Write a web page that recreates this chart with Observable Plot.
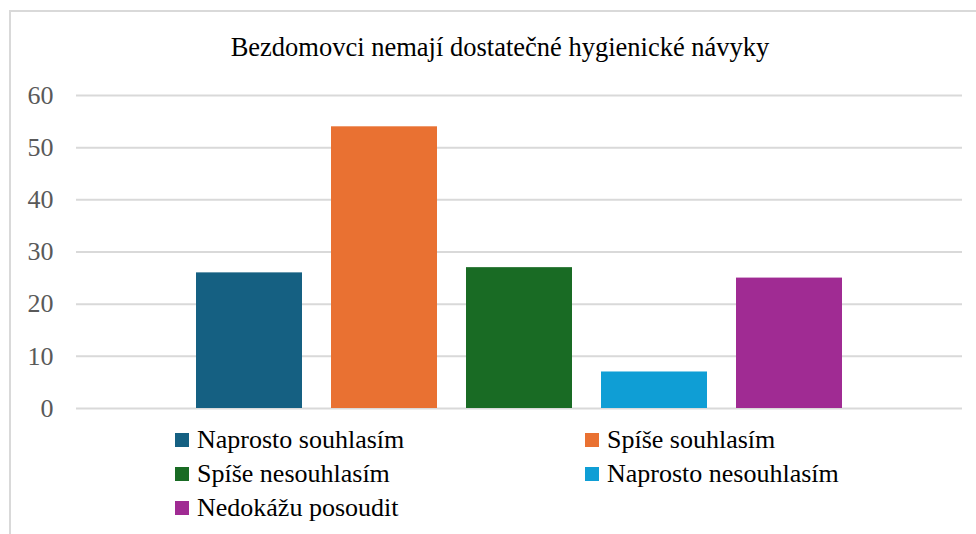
<!DOCTYPE html>
<html>
<head>
<meta charset="utf-8">
<script src="https://cdn.jsdelivr.net/npm/d3@7"></script>
<script src="https://cdn.jsdelivr.net/npm/@observablehq/plot@0.6"></script>
<style>
  html, body { margin: 0; padding: 0; background: #fff; }
  #wrap { position: relative; width: 976px; height: 534px; overflow: hidden; font-family: "Liberation Serif", "Times New Roman", serif; }
  #frame { position: absolute; left: 9px; top: 10px; width: 1100px; height: 700px; border-left: 2px solid #d9d9d9; border-top: 2px solid #d9d9d9; pointer-events: none; }
  #title { box-sizing: border-box; height: 75px; padding-top: 34px; line-height: 26px; font-size: 26.5px; text-align: center; width: 1000px; color: #000; white-space: nowrap; }
  #chart svg { display: block; }
  #legend { position: relative; height: 111px; }
  .item { position: absolute; display: flex; align-items: center; height: 34px; font-size: 26px; color: #000; white-space: nowrap; }
  .sw { width: 14px; height: 14px; margin-right: 8px; }
</style>
</head>
<body>
<div id="wrap">
  <div id="frame"></div>
  <div id="title"></div>
  <div id="chart"></div>
  <div id="legend"></div>
</div>
<script>
const titleText = "Bezdomovci nemají dostatečné hygienické návyky";
const categories = ["Naprosto souhlasím", "Spíše souhlasím", "Spíše nesouhlasím", "Naprosto nesouhlasím", "Nedokážu posoudit"];
const values = [26, 54, 27, 7, 25];
const colors = ["#156082", "#E97132", "#196B24", "#0F9ED5", "#A02B93"];
const yTicks = [0, 10, 20, 30, 40, 50, 60];

document.getElementById("title").textContent = titleText;

const data = categories.map((c, i) => ({category: c, value: values[i]}));

const chart = Plot.plot({
  width: 976,
  height: 348,
  marginLeft: 76,
  marginRight: 14,
  marginTop: 20,
  marginBottom: 15,
  x: {domain: categories, paddingInner: 0.213, paddingOuter: 0.864, axis: null},
  y: {domain: [0, 60], ticks: yTicks},
  color: {domain: categories, range: colors},
  style: {fontFamily: "'Liberation Serif', 'Times New Roman', serif", fontSize: "26px", background: "transparent"},
  marks: [
    Plot.ruleY(yTicks, {stroke: "#d9d9d9", strokeWidth: 2}),
    Plot.barY(data, {x: "category", y: "value", fill: "category"}),
    Plot.axisY({ticks: yTicks, tickSize: 0, tickPadding: 23, fill: "#595959", fontSize: 26, label: null})
  ]
});
document.getElementById("chart").appendChild(chart);

const legend = document.getElementById("legend");
const colX = [175, 585];
categories.forEach((c, i) => {
  const item = document.createElement("div");
  item.className = "item";
  item.style.left = colX[i % 2] + "px";
  item.style.top = (Math.floor(i / 2) * 34) + "px";
  const sw = document.createElement("span");
  sw.className = "sw";
  sw.style.background = colors[i];
  const t = document.createElement("span");
  t.textContent = c;
  item.appendChild(sw);
  item.appendChild(t);
  legend.appendChild(item);
});
</script>
</body>
</html>
